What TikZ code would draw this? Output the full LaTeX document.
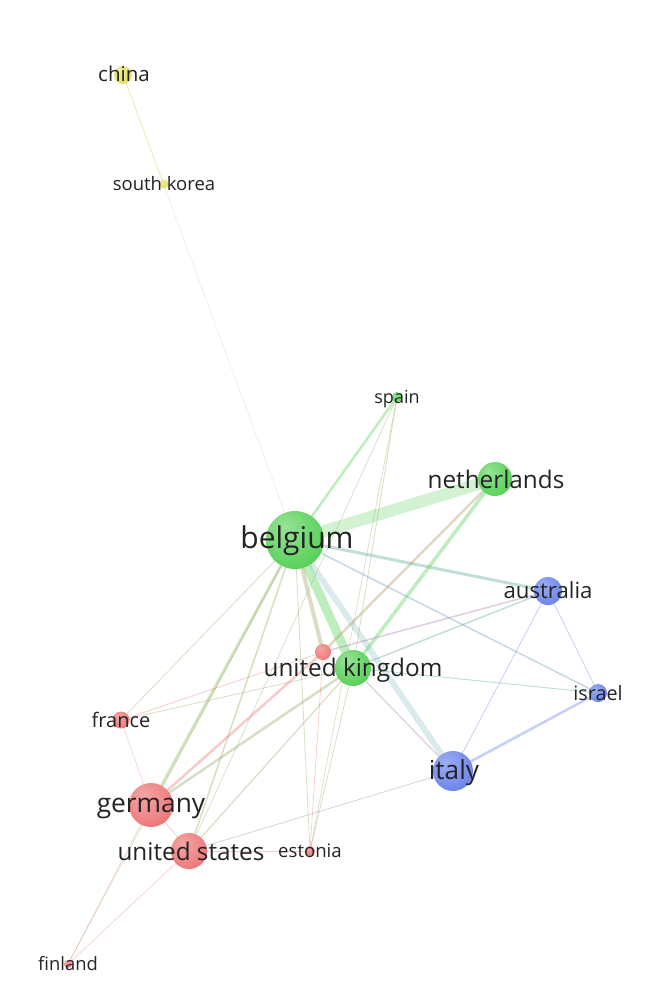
\documentclass[tikz,border=0pt]{standalone}
\usepackage{fontspec}
\setmainfont{Open Sans}
\usetikzlibrary{backgrounds}
\definecolor{cred}{RGB}{236,105,105}
\definecolor{cgreen}{RGB}{70,204,70}
\definecolor{cblue}{RGB}{92,118,232}
\definecolor{cyellow}{RGB}{222,222,80}
\definecolor{ctxt}{RGB}{35,35,35}
\pgfdeclareradialshading{shg}{\pgfpoint{-10bp}{12bp}}{color(0bp)=(cgreen!55!white); color(22bp)=(cgreen!80!white); color(40bp)=(cgreen); color(60bp)=(cgreen!92!black)}
\pgfdeclareradialshading{shr}{\pgfpoint{-10bp}{12bp}}{color(0bp)=(cred!60!white); color(22bp)=(cred!80!white); color(40bp)=(cred); color(60bp)=(cred!95!black)}
\pgfdeclareradialshading{shb}{\pgfpoint{-10bp}{12bp}}{color(0bp)=(cblue!60!white); color(22bp)=(cblue!80!white); color(40bp)=(cblue); color(60bp)=(cblue!92!black)}
\pgfdeclareradialshading{shy}{\pgfpoint{-10bp}{12bp}}{color(0bp)=(cyellow!55!white); color(22bp)=(cyellow!80!white); color(40bp)=(cyellow); color(60bp)=(cyellow)}
\tikzset{
  bubble/.style={circle, inner sep=0pt, minimum size=#1, draw=none},
  gb/.style={bubble=#1, shading=shg},
  rb/.style={bubble=#1, shading=shr},
  bb/.style={bubble=#1, shading=shb},
  yb/.style={bubble=#1, shading=shy},
  lbl/.style={text=ctxt, inner sep=0pt, anchor=center},
  link/.style={line cap=round, opacity=0.35},
}
\begin{document}
\begin{tikzpicture}[x=1pt,y=-1pt]
\useasboundingbox (0,0) rectangle (652,998);
% nodes
\node[yb=18] (china) at (123,75) {};
\node[yb=9] (skorea) at (164,184) {};
\node[gb=10] (spain) at (397,397) {};
\node[gb=34] (neth) at (495,479) {};
\node[gb=58] (belg) at (295,540) {};
\node[bb=28] (aus) at (548,591) {};
\node[rb=16] (rn) at (323,652) {};
\node[gb=36] (uk) at (353,668) {};
\node[bb=18] (isr) at (598,693) {};
\node[rb=17] (fra) at (121,720) {};
\node[bb=40] (ita) at (453,771) {};
\node[rb=44] (ger) at (151,805) {};
\node[rb=36] (usa) at (189,851) {};
\node[rb=10] (est) at (310,851) {};
\node[rb=8] (fin) at (68,964) {};
% labels
\node[lbl, font=\fontsize{20.5}{20}\selectfont] (china-l) at (124,74) {china};
\node[lbl, font=\fontsize{18.5}{18}\selectfont] (skorea-l) at (164,184) {south korea};
\node[lbl, font=\fontsize{18}{18}\selectfont] (spain-l) at (397,399) {spain};
\node[lbl, font=\fontsize{24.3}{24}\selectfont] (neth-l) at (496,479) {netherlands};
\node[lbl, font=\fontsize{30}{30}\selectfont] (belg-l) at (297,541) {belgium};
\node[lbl, font=\fontsize{22.2}{22}\selectfont] (aus-l) at (548,590) {australia};
\node[lbl, font=\fontsize{24.3}{24}\selectfont] (uk-l) at (353,670) {united kingdom};
\node[lbl, font=\fontsize{19.8}{20}\selectfont] (isr-l) at (598,693) {israel};
\node[lbl, font=\fontsize{20}{20}\selectfont] (fra-l) at (121,720) {france};
\node[lbl, font=\fontsize{26.2}{26}\selectfont] (ita-l) at (454,773) {italy};
\node[lbl, font=\fontsize{26.3}{26}\selectfont] (ger-l) at (151,808) {germany};
\node[lbl, font=\fontsize{24.3}{24}\selectfont] (usa-l) at (191,851) {united states};
\node[lbl, font=\fontsize{18.6}{18}\selectfont] (est-l) at (310,851) {estonia};
\node[lbl, font=\fontsize{18.4}{18}\selectfont] (fin-l) at (68,964) {finland};
% edges
\begin{scope}[on background layer]
\draw[link, cred!40!cgreen!60, line width=0.8, opacity=0.25] (china.center) -- (belg.center);
\draw[link, cyellow, line width=0.8, opacity=0.3] (china.center) -- (skorea.center);
\draw[link, cgreen!70, line width=12] (belg.center) -- (neth.center);
\draw[link, cgreen, line width=2.5] (belg.center) -- (spain.center);
\draw[link, cgreen!50!cblue, line width=3] (belg.center) -- (aus.center);
\draw[link, cgreen, line width=9] (belg.center) -- (uk.center);
\draw[link, cgreen!40!cblue!60, line width=6] (belg.center) -- (ita.center);
\draw[link, cgreen!50!cred, line width=4] (belg.center) -- (rn.center);
\draw[link, cblue!70!cgreen, line width=1.5] (belg.center) -- (isr.center);
\draw[link, cgreen!65!cred, line width=3] (belg.center) -- (ger.center);
\draw[link, cgreen!65!cred, line width=1.5] (belg.center) -- (usa.center);
\draw[link, cgreen!65!cred, line width=0.8] (belg.center) -- (fra.center);
\draw[link, cgreen!65!cred, line width=0.8] (belg.center) -- (est.center);
\draw[link, cgreen!65!cred, line width=0.6] (belg.center) -- (fin.center);
\draw[link, cgreen, line width=3.5] (neth.center) -- (uk.center);
\draw[link, cred!60!cgreen, line width=2.5] (neth.center) -- (rn.center);
\draw[link, cgreen!65!cred, line width=0.8] (spain.center) -- (uk.center);
\draw[link, cgreen!65!cred, line width=0.7] (spain.center) -- (est.center);
\draw[link, cgreen!65!cred, line width=0.7] (spain.center) -- (usa.center);
\draw[link, cred!50!cblue, line width=1.5] (aus.center) -- (rn.center);
\draw[link, cgreen!50!cblue, line width=1.5] (aus.center) -- (uk.center);
\draw[link, cblue, line width=0.8] (aus.center) -- (ita.center);
\draw[link, cblue, line width=0.8] (aus.center) -- (isr.center);
\draw[link, cblue, line width=2.5] (isr.center) -- (ita.center);
\draw[link, cgreen!50!cblue, line width=1] (isr.center) -- (uk.center);
\draw[link, cred!50!cblue, line width=0.8] (ita.center) -- (usa.center);
\draw[link, cred!50!cblue, line width=1.2] (ita.center) -- (uk.center);
\draw[link, cgreen!60!cred, line width=2.5] (uk.center) -- (ger.center);
\draw[link, cred!60!cgreen, line width=0.8] (uk.center) -- (fra.center);
\draw[link, cred, line width=0.8] (rn.center) -- (fra.center);
\draw[link, cred, line width=2.5] (rn.center) -- (ger.center);
\draw[link, cred, line width=0.6] (fra.center) -- (ger.center);
\draw[link, cred, line width=0.8] (ger.center) -- (usa.center);
\draw[link, cred, line width=1] (usa.center) -- (est.center);
\draw[link, cred, line width=0.6] (usa.center) -- (fin.center);
\draw[link, cred, line width=0.6] (ger.center) -- (fin.center);
\draw[link, cred!60!cgreen, line width=0.8] (uk.center) -- (est.center);
\draw[link, cred!60!cgreen, line width=1.2] (uk.center) -- (usa.center);
\draw[link, cred, line width=0.7] (rn.center) -- (est.center);
\end{scope}
\end{tikzpicture}
\end{document}
